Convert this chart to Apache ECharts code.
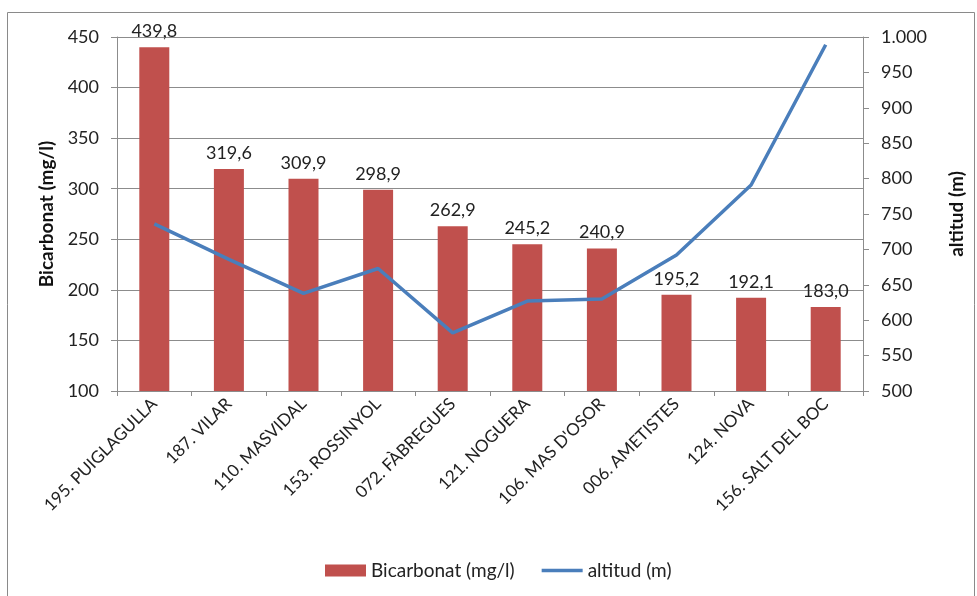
<!DOCTYPE html>
<html>
<head>
<meta charset="utf-8">
<script src="https://cdn.jsdelivr.net/npm/echarts@6/dist/echarts.min.js"></script>
<style>
  html, body { margin: 0; padding: 0; background: #fff; }
  #chart { width: 977px; height: 596px; }
</style>
</head>
<body>
<div id="chart"></div>
<script>
// Bicarbonate content (mg/l) and altitude (m) of each spring
const categories = [
  '195. PUIGLAGULLA', '187. VILAR', '110. MASVIDAL', '153. ROSSINYOL',
  '072. FÀBREGUES', '121. NOGUERA', "106. MAS D'OSOR", '006. AMETISTES',
  '124. NOVA', '156. SALT DEL BOC'
];
const bicarbonat = [439.8, 319.6, 309.9, 298.9, 262.9, 245.2, 240.9, 195.2, 192.1, 183.0];
const altitud = [736, 686, 638, 673, 582, 627, 630, 692, 791, 989];

const FONT = 'Lato, "Open Sans", sans-serif';
const gridColor = '#8c8c8c';
const barColor = '#c0504d';
const lineColor = '#4a7ebb';

// thousands separator with a dot (1.000)
const fmtThousands = v => v >= 1000
  ? Math.floor(v / 1000) + '.' + String(v % 1000).padStart(3, '0')
  : String(v);

const chart = echarts.init(document.getElementById('chart'));
chart.setOption({
  animation: false,
  backgroundColor: '#fff',
  graphic: [{
    type: 'rect',
    shape: { x: 7.5, y: 12.5, width: 967, height: 600 },
    style: { fill: 'none', stroke: '#8a8a8a', lineWidth: 1 },
    silent: true
  }],
  grid: { left: 117, right: 114, top: 37, bottom: 205 },
  legend: {
    left: 320,
    top: 556,
    itemGap: 27,
    itemWidth: 41,
    itemHeight: 12,
    textStyle: { fontFamily: FONT, fontSize: 19, color: '#222' },
    data: [
      { name: 'Bicarbonat (mg/l)', icon: 'rect' },
      { name: 'altitud (m)', icon: 'path://M0,0 L44,0 L44,3.5 L0,3.5 Z' }
    ]
  },
  xAxis: {
    type: 'category',
    data: categories,
    axisLine: { lineStyle: { color: gridColor } },
    axisTick: { show: true, alignWithLabel: false, length: 5, lineStyle: { color: gridColor } },
    axisLabel: {
      rotate: 45,
      interval: 0,
      margin: 10,
      fontFamily: FONT,
      fontSize: 17,
      color: '#222'
    }
  },
  yAxis: [{
    type: 'value',
    min: 100, max: 450, interval: 50,
    name: 'Bicarbonat (mg/l)',
    nameLocation: 'middle',
    nameRotate: 90,
    nameGap: 60,
    nameTextStyle: { fontFamily: FONT, fontSize: 19, fontWeight: 'bold', color: '#111' },
    axisLine: { show: true, lineStyle: { color: gridColor } },
    axisTick: { show: true, length: 6, lineStyle: { color: gridColor } },
    axisLabel: { fontFamily: FONT, fontSize: 18, color: '#222', margin: 18 },
    splitLine: { show: true, lineStyle: { color: gridColor, width: 1 } }
  }, {
    type: 'value',
    min: 500, max: 1000, interval: 50,
    name: 'altitud (m)',
    nameLocation: 'middle',
    nameRotate: 90,
    nameGap: 84,
    nameTextStyle: { fontFamily: FONT, fontSize: 19, fontWeight: 'bold', color: '#111' },
    axisLine: { show: true, lineStyle: { color: gridColor } },
    axisTick: { show: true, length: 6, lineStyle: { color: gridColor } },
    axisLabel: {
      fontFamily: FONT, fontSize: 18, color: '#222', margin: 18,
      formatter: fmtThousands
    },
    splitLine: { show: false }
  }],
  series: [{
    name: 'Bicarbonat (mg/l)',
    type: 'bar',
    data: bicarbonat,
    yAxisIndex: 0,
    barWidth: 30,
    itemStyle: { color: barColor },
    label: {
      show: true,
      position: 'top',
      distance: 7,
      fontFamily: FONT,
      fontSize: 18,
      color: '#222',
      formatter: p => p.value.toFixed(1).replace('.', ',')
    }
  }, {
    name: 'altitud (m)',
    type: 'line',
    data: altitud,
    yAxisIndex: 1,
    symbol: 'none',
    lineStyle: { color: lineColor, width: 3.5 },
    itemStyle: { color: lineColor }
  }]
});
</script>
</body>
</html>
